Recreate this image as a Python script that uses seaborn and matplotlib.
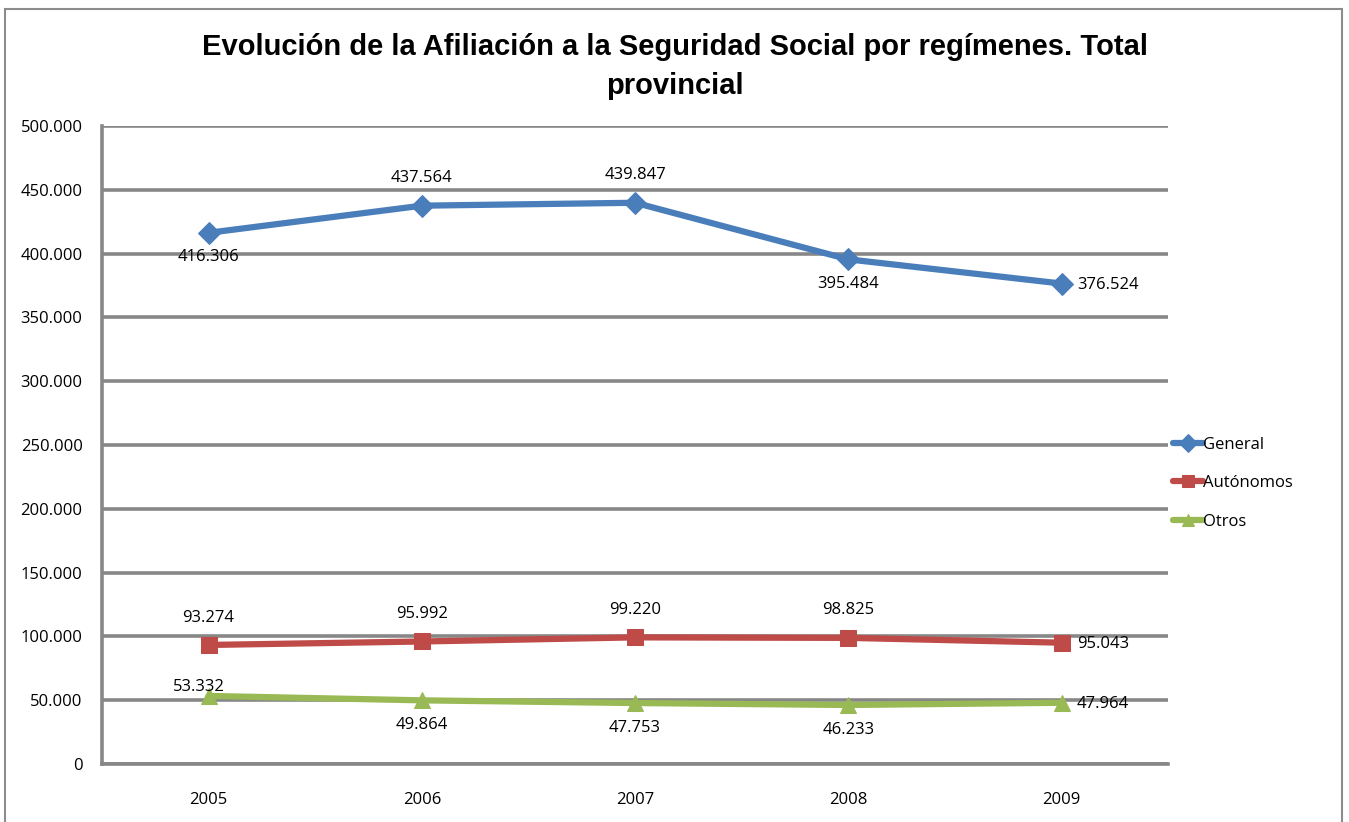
import numpy as np
import pandas as pd
import seaborn as sns
import matplotlib.pyplot as plt
from matplotlib.patches import Rectangle
from matplotlib.ticker import FuncFormatter

# ================== DATA ==================
years = ["2005", "2006", "2007", "2008", "2009"]
general = [416306, 437564, 439847, 395484, 376524]
autonomos = [93274, 95992, 99220, 98825, 95043]
otros = [53332, 49864, 47753, 46233, 47964]

series_names = ["General", "Autónomos", "Otros"]
colors = ["#4a7ebb", "#be4b48", "#98b954"]
markers = ["D", "s", "^"]

# label position per point: a=above, b=below, r=right
label_pos = {
    "General": ["b", "a", "a", "b", "r"],
    "Autónomos": ["a", "a", "a", "a", "r"],
    "Otros": ["al", "b", "b", "b", "r"],
}

df = pd.DataFrame({"Año": years, "General": general,
                   "Autónomos": autonomos, "Otros": otros})
df_long = df.melt(id_vars="Año", var_name="Régimen", value_name="Afiliados")
df_long["x"] = df_long["Año"].map({y: i for i, y in enumerate(years)})

sns.set_style("white")
plt.rcParams['font.family'] = ['Open Sans', 'DejaVu Sans']
plt.rcParams['text.color'] = 'black'

fig = plt.figure(figsize=(13.49, 8.22), dpi=100)
ax = fig.add_axes([0.0756, 0.0706, 0.7904, 0.7761])

grid_col = "#878787"
ax.set_ylim(0, 500000)
ax.set_xlim(-0.5, 4.5)
ax.set_yticks(np.arange(0, 500001, 50000))
ax.yaxis.grid(True, color=grid_col, linewidth=2.6, zorder=0)
ax.set_axisbelow(True)

fs = 12
for name, col, mk in zip(series_names, colors, markers):
    sub = df_long[df_long["Régimen"] == name]
    sns.lineplot(data=sub, x="x", y="Afiliados", ax=ax, color=col, linewidth=4.5,
                 marker=mk, markersize=11, markeredgecolor=col, label=name,
                 solid_capstyle="round", zorder=3)
    for i, (xv, yv) in enumerate(zip(sub["x"], sub["Afiliados"])):
        txt = f"{yv:,}".replace(",", ".")
        p = label_pos[name][i]
        if p == "a":
            ax.annotate(txt, (xv, yv), xytext=(0, 14), textcoords="offset points",
                        ha="center", va="bottom", fontsize=fs, color="black")
        elif p == "al":
            ax.annotate(txt, (xv, yv), xytext=(-7, 1), textcoords="offset points",
                        ha="center", va="bottom", fontsize=fs, color="black")
        elif p == "b":
            ax.annotate(txt, (xv, yv), xytext=(0, -12), textcoords="offset points",
                        ha="center", va="top", fontsize=fs, color="black")
        else:
            ax.annotate(txt, (xv, yv), xytext=(11, -1), textcoords="offset points",
                        ha="left", va="center", fontsize=fs, color="black")

ax.set_xticks(range(len(years)))
ax.set_xticklabels(years)
ax.yaxis.set_major_formatter(FuncFormatter(lambda v, p: f"{int(v):,}".replace(",", ".")))
ax.tick_params(axis="both", length=0, labelsize=fs, colors="black")
ax.tick_params(axis="x", pad=20)
ax.tick_params(axis="y", pad=14)
ax.set_xlabel("")
ax.set_ylabel("")

for s in ["top", "right"]:
    ax.spines[s].set_visible(False)
for s in ["left", "bottom"]:
    ax.spines[s].set_color(grid_col)
    ax.spines[s].set_linewidth(2.6)

leg = ax.legend(loc="center left", bbox_to_anchor=(0.998, 0.44), frameon=False,
                fontsize=fs, handlelength=1.8, handletextpad=0.0,
                labelspacing=1.35, borderaxespad=0, markerscale=0.85)
for t in leg.get_texts():
    t.set_color("black")

fig.suptitle("Evolución de la Afiliación a la Seguridad Social por regímenes. Total\nprovincial",
             x=0.5, y=0.96, fontsize=21, fontweight="bold", linespacing=1.5,
             color="black", va="top",
             family=['Liberation Sans Narrow', 'Liberation Sans', 'DejaVu Sans'])

# chart frame
fig.patches.append(Rectangle((0.004, -0.01), 0.991, 0.999, transform=fig.transFigure,
                             fill=False, edgecolor="#8c8c8c", linewidth=1.5))

fig.savefig("out.png", dpi=100)
